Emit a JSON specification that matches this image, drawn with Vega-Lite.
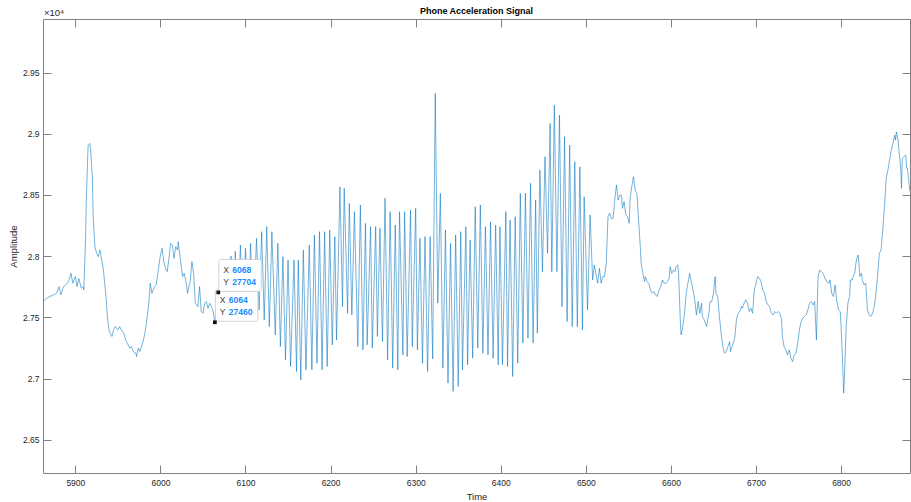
{
  "$schema": "https://vega.github.io/schema/vega-lite/v6.json",
  "width": 867,
  "height": 454,
  "autosize": {"type": "none"},
  "padding": {"left": 43, "top": 19, "right": 1, "bottom": 29},
  "background": "white",
  "title": {"text": "Phone Acceleration Signal", "fontSize": 9, "font": "Liberation Sans", "fontWeight": "bold", "color": "#000000", "offset": 3, "dy": 11, "anchor": "middle"},
  "config": {
    "font": "Liberation Sans",
    "view": {"stroke": null},
    "axis": {"domainColor": "#808080", "tickColor": "#808080", "domainWidth": 1, "tickWidth": 1, "labelColor": "#262626", "labelFontSize": 8.5, "labelFont": "Liberation Sans", "titleFont": "Liberation Sans", "titleColor": "#262626", "titleFontSize": 9.5, "titleFontWeight": "normal", "grid": false, "labelFlush": false, "labelOverlap": false}
  },
  "datasets": {
    "signal": [
      {"t":5862,"a":27629},{"t":5866,"a":27656},{"t":5870,"a":27670},{"t":5874,"a":27683},{"t":5878,"a":27697},{"t":5881,"a":27751},{"t":5883,"a":27683},{"t":5886,"a":27751},{"t":5889,"a":27765},{"t":5892,"a":27792},{"t":5895,"a":27860},{"t":5897,"a":27779},{"t":5900,"a":27833},{"t":5902,"a":27751},{"t":5904,"a":27819},{"t":5907,"a":27738},{"t":5909,"a":27751},{"t":5910,"a":27724},{"t":5912,"a":28132},{"t":5913,"a":28486},{"t":5915,"a":28907},{"t":5917,"a":28921},{"t":5918,"a":28866},{"t":5920,"a":28649},{"t":5921,"a":28322},{"t":5923,"a":28078},{"t":5925,"a":28023},{"t":5927,"a":27996},{"t":5929,"a":28051},{"t":5931,"a":27969},{"t":5933,"a":27887},{"t":5936,"a":27670},{"t":5938,"a":27480},{"t":5940,"a":27384},{"t":5943,"a":27344},{"t":5945,"a":27398},{"t":5947,"a":27425},{"t":5950,"a":27398},{"t":5952,"a":27425},{"t":5954,"a":27398},{"t":5957,"a":27371},{"t":5959,"a":27317},{"t":5961,"a":27289},{"t":5964,"a":27249},{"t":5966,"a":27262},{"t":5968,"a":27221},{"t":5971,"a":27208},{"t":5972,"a":27180},{"t":5974,"a":27249},{"t":5976,"a":27221},{"t":5979,"a":27289},{"t":5981,"a":27344},{"t":5983,"a":27425},{"t":5986,"a":27588},{"t":5988,"a":27779},{"t":5990,"a":27697},{"t":5993,"a":27751},{"t":5995,"a":27765},{"t":5997,"a":27860},{"t":6000,"a":28010},{"t":6002,"a":28064},{"t":6004,"a":27955},{"t":6006,"a":27901},{"t":6008,"a":27874},{"t":6010,"a":27983},{"t":6012,"a":28105},{"t":6014,"a":28091},{"t":6016,"a":27983},{"t":6018,"a":28078},{"t":6020,"a":28051},{"t":6021,"a":28119},{"t":6023,"a":27996},{"t":6026,"a":27833},{"t":6028,"a":27860},{"t":6030,"a":27792},{"t":6032,"a":27697},{"t":6033,"a":27738},{"t":6035,"a":27792},{"t":6037,"a":27955},{"t":6039,"a":27860},{"t":6041,"a":27615},{"t":6044,"a":27588},{"t":6046,"a":27751},{"t":6048,"a":27548},{"t":6050,"a":27534},{"t":6052,"a":27615},{"t":6054,"a":27629},{"t":6056,"a":27574},{"t":6058,"a":27615},{"t":6060,"a":27588},{"t":6062,"a":27548},{"t":6064,"a":27460},
      {"t":6066,"a":27600},{"t":6068,"a":27704},{"t":6070,"a":27540},{"t":6073,"a":27880},{"t":6075,"a":27520},{"t":6078,"a":27950},{"t":6080,"a":27500},{"t":6083,"a":28000},{"t":6085,"a":27490},{"t":6088,"a":28040},{"t":6091,"a":27480},
      {"t":6094,"a":28091},{"t":6097,"a":27545},{"t":6100,"a":28064},{"t":6103,"a":27512},{"t":6106,"a":28105},{"t":6109,"a":27496},{"t":6113,"a":28146},{"t":6116,"a":27561},{"t":6119,"a":28200},{"t":6122,"a":27480},{"t":6125,"a":28241},{"t":6128,"a":27425},{"t":6131,"a":28200},{"t":6135,"a":27357},{"t":6138,"a":28105},{"t":6141,"a":27262},{"t":6144,"a":27996},{"t":6147,"a":27153},{"t":6150,"a":27969},{"t":6153,"a":27099},{"t":6157,"a":27969},{"t":6160,"a":27058},{"t":6162,"a":27969},{"t":6165,"a":26990},{"t":6168,"a":28050},{"t":6171,"a":27072},{"t":6175,"a":28091},{"t":6178,"a":27072},{"t":6181,"a":28173},{"t":6184,"a":27126},{"t":6187,"a":28200},{"t":6190,"a":27072},{"t":6193,"a":28200},{"t":6196,"a":27099},{"t":6199,"a":28214},{"t":6202,"a":27276},{"t":6205,"a":28159},{"t":6207,"a":27316},{"t":6211,"a":28567},{"t":6214,"a":27588},{"t":6216,"a":28554},{"t":6220,"a":27534},{"t":6222,"a":28431},{"t":6225,"a":27520},{"t":6228,"a":28363},{"t":6232,"a":27262},{"t":6235,"a":28418},{"t":6238,"a":27235},{"t":6241,"a":28268},{"t":6243,"a":27276},{"t":6247,"a":28241},{"t":6249,"a":27249},{"t":6253,"a":28241},{"t":6255,"a":27344},{"t":6258,"a":28228},{"t":6261,"a":27303},{"t":6264,"a":28472},{"t":6267,"a":27153},{"t":6270,"a":28363},{"t":6273,"a":27086},{"t":6276,"a":28254},{"t":6279,"a":27072},{"t":6281,"a":28363},{"t":6285,"a":27194},{"t":6287,"a":28363},{"t":6290,"a":27180},{"t":6294,"a":28377},{"t":6296,"a":27262},{"t":6300,"a":28391},{"t":6302,"a":27235},{"t":6305,"a":28146},{"t":6308,"a":27126},{"t":6311,"a":28159},{"t":6314,"a":27058},{"t":6317,"a":28159},{"t":6320,"a":27161},{"t":6323,"a":29329},{"t":6326,"a":27616},{"t":6329,"a":28513},{"t":6332,"a":27086},{"t":6335,"a":28214},{"t":6338,"a":26963},{"t":6341,"a":28105},{"t":6344,"a":26895},{"t":6347,"a":28173},{"t":6350,"a":26936},{"t":6353,"a":28200},{"t":6355,"a":27072},{"t":6359,"a":28241},{"t":6361,"a":27113},{"t":6364,"a":28132},{"t":6367,"a":27167},{"t":6370,"a":28404},{"t":6373,"a":27249},{"t":6376,"a":28418},{"t":6379,"a":27208},{"t":6382,"a":28241},{"t":6385,"a":27194},{"t":6388,"a":28281},{"t":6391,"a":27167},{"t":6394,"a":28254},{"t":6397,"a":27113},{"t":6399,"a":28241},{"t":6402,"a":27113},{"t":6406,"a":28363},{"t":6408,"a":27099},{"t":6411,"a":28295},{"t":6414,"a":27017},{"t":6417,"a":28322},{"t":6420,"a":27126},{"t":6423,"a":28513},{"t":6426,"a":27290},{"t":6429,"a":28513},{"t":6432,"a":27330},{"t":6435,"a":28595},{"t":6438,"a":27290},{"t":6441,"a":28458},{"t":6443,"a":27371},{"t":6446,"a":28703},{"t":6449,"a":27873},{"t":6452,"a":28812},{"t":6455,"a":28024},{"t":6458,"a":29084},{"t":6460,"a":27873},{"t":6463,"a":29233},{"t":6466,"a":27873},{"t":6469,"a":29152},{"t":6472,"a":27588},{"t":6475,"a":28975},{"t":6478,"a":27466},{"t":6481,"a":28907},{"t":6484,"a":27425},{"t":6487,"a":28771},{"t":6490,"a":27425},{"t":6493,"a":28730},{"t":6496,"a":27398},{"t":6498,"a":28485},{"t":6502,"a":27561},{"t":6505,"a":28336},{"t":6508,"a":27806},
      {"t":6510,"a":27928},{"t":6512,"a":27847},{"t":6514,"a":27779},{"t":6516,"a":27901},{"t":6518,"a":27779},{"t":6520,"a":27833},{"t":6522,"a":27833},{"t":6524,"a":27942},{"t":6526,"a":28322},{"t":6528,"a":28350},{"t":6530,"a":28309},{"t":6532,"a":28309},{"t":6534,"a":28458},{"t":6536,"a":28581},{"t":6538,"a":28458},{"t":6540,"a":28499},{"t":6542,"a":28499},{"t":6543,"a":28390},{"t":6545,"a":28445},{"t":6547,"a":28336},{"t":6549,"a":28323},{"t":6551,"a":28268},{"t":6552,"a":28472},{"t":6554,"a":28567},{"t":6556,"a":28649},{"t":6558,"a":28540},{"t":6560,"a":28513},{"t":6562,"a":28295},{"t":6564,"a":28078},{"t":6565,"a":27942},{"t":6567,"a":27860},{"t":6569,"a":27792},{"t":6570,"a":27833},{"t":6572,"a":27792},{"t":6574,"a":27779},{"t":6576,"a":27724},{"t":6578,"a":27697},{"t":6580,"a":27711},{"t":6582,"a":27684},{"t":6584,"a":27670},{"t":6586,"a":27724},{"t":6588,"a":27752},{"t":6590,"a":27806},{"t":6592,"a":27779},{"t":6594,"a":27779},{"t":6596,"a":27792},{"t":6598,"a":27820},{"t":6599,"a":27915},{"t":6601,"a":27860},{"t":6603,"a":27887},{"t":6605,"a":27874},{"t":6606,"a":27915},{"t":6608,"a":27928},{"t":6609,"a":27860},{"t":6611,"a":27480},{"t":6612,"a":27357},{"t":6614,"a":27425},{"t":6616,"a":27534},{"t":6618,"a":27697},{"t":6620,"a":27779},{"t":6622,"a":27860},{"t":6624,"a":27792},{"t":6626,"a":27724},{"t":6628,"a":27643},{"t":6630,"a":27520},{"t":6632,"a":27629},{"t":6634,"a":27534},{"t":6636,"a":27616},{"t":6637,"a":27507},{"t":6639,"a":27480},{"t":6642,"a":27425},{"t":6645,"a":27548},{"t":6646,"a":27629},{"t":6648,"a":27629},{"t":6650,"a":27697},{"t":6652,"a":27833},{"t":6653,"a":27697},{"t":6655,"a":27670},{"t":6657,"a":27507},{"t":6659,"a":27371},{"t":6661,"a":27262},{"t":6663,"a":27208},{"t":6665,"a":27221},{"t":6667,"a":27262},{"t":6669,"a":27303},{"t":6670,"a":27221},{"t":6672,"a":27262},{"t":6675,"a":27330},{"t":6677,"a":27480},{"t":6679,"a":27534},{"t":6681,"a":27548},{"t":6683,"a":27588},{"t":6684,"a":27575},{"t":6686,"a":27616},{"t":6688,"a":27643},{"t":6690,"a":27616},{"t":6692,"a":27548},{"t":6694,"a":27575},{"t":6696,"a":27534},{"t":6698,"a":27724},{"t":6700,"a":27779},{"t":6702,"a":27833},{"t":6704,"a":27820},{"t":6706,"a":27792},{"t":6708,"a":27724},{"t":6710,"a":27697},{"t":6712,"a":27629},{"t":6714,"a":27602},{"t":6716,"a":27588},{"t":6718,"a":27534},{"t":6720,"a":27520},{"t":6722,"a":27548},{"t":6724,"a":27534},{"t":6726,"a":27548},{"t":6728,"a":27534},{"t":6730,"a":27480},{"t":6731,"a":27344},{"t":6733,"a":27262},{"t":6735,"a":27235},{"t":6737,"a":27194},{"t":6739,"a":27235},{"t":6741,"a":27167},{"t":6743,"a":27140},{"t":6745,"a":27194},{"t":6747,"a":27208},{"t":6749,"a":27289},{"t":6751,"a":27398},{"t":6753,"a":27466},{"t":6755,"a":27493},{"t":6757,"a":27507},{"t":6759,"a":27520},{"t":6761,"a":27561},{"t":6763,"a":27616},{"t":6765,"a":27629},{"t":6767,"a":27602},{"t":6769,"a":27629},{"t":6771,"a":27316},{"t":6772,"a":27588},{"t":6773,"a":27833},{"t":6775,"a":27887},{"t":6777,"a":27874},{"t":6779,"a":27860},{"t":6781,"a":27820},{"t":6783,"a":27792},{"t":6786,"a":27779},{"t":6787,"a":27806},{"t":6789,"a":27697},{"t":6791,"a":27670},{"t":6793,"a":27765},{"t":6795,"a":27629},{"t":6797,"a":27561},{"t":6799,"a":27548},{"t":6800,"a":27425},{"t":6802,"a":27099},{"t":6803,"a":26881},{"t":6804,"a":27017},{"t":6806,"a":27425},{"t":6808,"a":27616},{"t":6810,"a":27670},{"t":6811,"a":27806},{"t":6813,"a":27806},{"t":6814,"a":27833},{"t":6816,"a":27860},{"t":6818,"a":27969},{"t":6820,"a":28010},{"t":6821,"a":27942},{"t":6822,"a":27833},{"t":6824,"a":27860},{"t":6825,"a":27806},{"t":6827,"a":27765},{"t":6829,"a":27779},{"t":6831,"a":27561},{"t":6833,"a":27520},{"t":6835,"a":27507},{"t":6837,"a":27534},{"t":6839,"a":27588},{"t":6841,"a":27697},{"t":6843,"a":27847},{"t":6845,"a":28023},{"t":6847,"a":28051},{"t":6849,"a":28214},{"t":6851,"a":28404},{"t":6853,"a":28635},{"t":6855,"a":28703},{"t":6857,"a":28785},{"t":6859,"a":28866},{"t":6861,"a":28921},{"t":6863,"a":28989},{"t":6864,"a":28948},{"t":6865,"a":29016},{"t":6867,"a":28948},{"t":6868,"a":28866},{"t":6870,"a":28730},{"t":6871,"a":28554},{"t":6872,"a":28798},{"t":6874,"a":28812},{"t":6876,"a":28826},{"t":6877,"a":28717},{"t":6878,"a":28717},{"t":6880,"a":28581},{"t":6881,"a":28526}
    ],
    "tips": [
      {"t": 6064, "a": 27460},
      {"t": 6068, "a": 27704}
    ],
    "note": [
      {"label": "×10⁴"}
    ]
  },
  "resolve": {"axis": {"x": "independent", "y": "independent"}},
  "layer": [
    {
      "data": {"name": "signal"},
      "mark": {"type": "line", "color": "#0072BD", "strokeWidth": 0.55, "clip": true},
      "encoding": {
        "x": {"field": "t", "type": "quantitative", "scale": {"domain": [5862, 6881], "nice": false, "zero": false},
          "axis": {"orient": "bottom", "values": [5900, 6000, 6100, 6200, 6300, 6400, 6500, 6600, 6700, 6800], "format": "d", "tickSize": -8, "labelPadding": 13, "title": "Time", "titlePadding": 5}},
        "y": {"field": "a", "type": "quantitative", "scale": {"domain": [26229, 29937], "nice": false, "zero": false},
          "axis": {"orient": "left", "values": [26500, 27000, 27500, 28000, 28500, 29000, 29500], "labelExpr": "format(datum.value / 10000, '.2~f')", "tickSize": -8, "labelPadding": 12, "title": "Amplitude", "titlePadding": 4}}
      }
    },
    {
      "data": {"name": "tips"},
      "mark": {"type": "rect", "fill": "#ffffff", "fillOpacity": 0.97, "stroke": "#c8c8c8", "strokeWidth": 0.8, "cornerRadius": 2, "xOffset": 0.5, "x2Offset": 43, "yOffset": -33, "y2Offset": -1},
      "encoding": {
        "x": {"field": "t", "type": "quantitative", "axis": {"orient": "top", "values": [5900, 6000, 6100, 6200, 6300, 6400, 6500, 6600, 6700, 6800], "labels": false, "tickSize": -8, "title": null}},
        "x2": {"field": "t"},
        "y": {"field": "a", "type": "quantitative", "axis": {"orient": "right", "values": [26500, 27000, 27500, 28000, 28500, 29000, 29500], "labels": false, "tickSize": -8, "title": null}},
        "y2": {"field": "a"}
      }
    },
    {
      "data": {"name": "tips"},
      "mark": {"type": "square", "size": 14, "filled": true, "color": "#141414", "opacity": 1},
      "encoding": {
        "x": {"field": "t", "type": "quantitative", "axis": null},
        "y": {"field": "a", "type": "quantitative", "axis": null}
      }
    },
    {
      "data": {"name": "tips"},
      "mark": {"type": "text", "text": "X", "align": "left", "baseline": "middle", "dx": 5, "dy": -22, "fontSize": 8.5, "color": "#404040"},
      "encoding": {
        "x": {"field": "t", "type": "quantitative", "axis": null},
        "y": {"field": "a", "type": "quantitative", "axis": null}
      }
    },
    {
      "data": {"name": "tips"},
      "mark": {"type": "text", "text": "Y", "align": "left", "baseline": "middle", "dx": 5, "dy": -10.5, "fontSize": 8.5, "color": "#404040"},
      "encoding": {
        "x": {"field": "t", "type": "quantitative", "axis": null},
        "y": {"field": "a", "type": "quantitative", "axis": null}
      }
    },
    {
      "data": {"name": "tips"},
      "mark": {"type": "text", "align": "left", "baseline": "middle", "dx": 14, "dy": -22, "fontSize": 8.5, "fontWeight": "bold", "color": "#1a8cff"},
      "encoding": {
        "x": {"field": "t", "type": "quantitative", "axis": null},
        "y": {"field": "a", "type": "quantitative", "axis": null},
        "text": {"field": "t", "type": "quantitative", "format": "d"}
      }
    },
    {
      "data": {"name": "tips"},
      "mark": {"type": "text", "align": "left", "baseline": "middle", "dx": 14, "dy": -10.5, "fontSize": 8.5, "fontWeight": "bold", "color": "#1a8cff"},
      "encoding": {
        "x": {"field": "t", "type": "quantitative", "axis": null},
        "y": {"field": "a", "type": "quantitative", "axis": null},
        "text": {"field": "a", "type": "quantitative", "format": "d"}
      }
    },
    {
      "data": {"name": "note"},
      "mark": {"type": "text", "align": "left", "baseline": "bottom", "dx": 1, "dy": -1, "fontSize": 9.5, "color": "#262626", "clip": false},
      "encoding": {
        "x": {"datum": 5862, "type": "quantitative", "axis": null},
        "y": {"datum": 29937, "type": "quantitative", "axis": null},
        "text": {"field": "label", "type": "nominal"}
      }
    }
  ]
}
